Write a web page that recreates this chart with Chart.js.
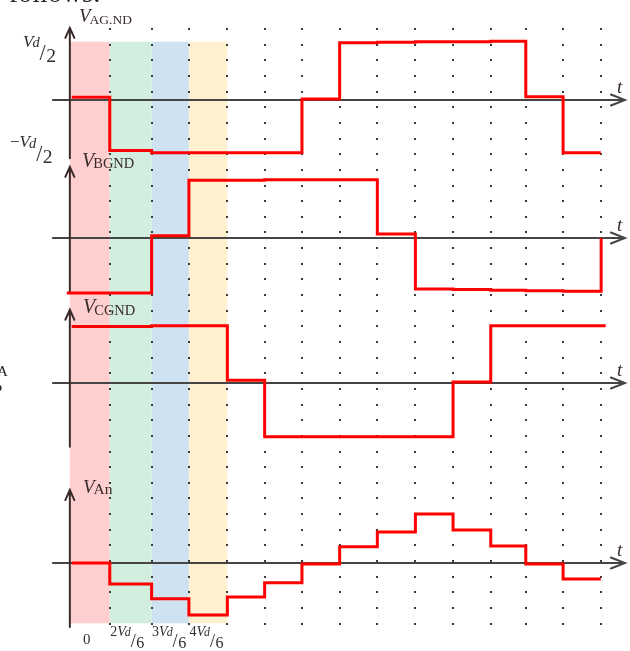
<!DOCTYPE html>
<html>
<head>
<meta charset="utf-8">
<script src="https://cdn.jsdelivr.net/npm/chart.js@4.4.0/dist/chart.umd.min.js"></script>
<style>
  html, body { margin: 0; padding: 0; background: #fff; }
  #holder { position: relative; width: 630px; height: 651px; }
</style>
</head>
<body>
<div id="holder"><canvas id="chart"></canvas></div>
<script>
// switching instants (the dotted columns)
var tGrid = [0, 1.06, 2.17, 3.16, 4.18, 5.17, 6.16, 7.16, 8.16, 9.17, 10.17, 11.17, 12.1, 13.09, 14.09];

// levels held over each interval, last value = where the trace ends
// (first three in units of Vd/2, last one in grid steps)
var vAG = [0.05, -0.91, -0.95, -0.95, -0.95, -0.95, 0.02, 1.03, 1.04, 1.05, 1.05, 1.06, 0.06, -0.95, -0.95];
var vBG = [-0.99, -0.99, 0.04, 1.04, 1.04, 1.05, 1.05, 1.05, 0.07, -0.92, -0.93, -0.94, -0.95, -0.96, 0];
var vCG = [1.02, 1.02, 1.03, 1.03, 0.05, -0.97, -0.97, -0.97, -0.97, -0.97, 0.02, 1.03, 1.03, 1.03, 1.03];
var vAn = [0, -1.31, -2.23, -3.25, -2.13, -1.23, -0.06, 1.02, 1.94, 3.06, 2.06, 1.06, -0.06, -1.0, -1.0];
var traceStart = [0.05, -0.08, 0.05, 0.05];
var traceEnd = [14.09, 14.1, 14.22, 14.09];

var bandColors = ['#ffcfcf', '#d2eedf', '#cfe2f1', '#fff1cf'];
var bandLabels = ['0', '2', '3', '4'];

var H = 651;
var FONT = '"Liberation Serif", "DejaVu Serif", serif';

// panel layout: pixel of the zero line and pixels per unit
var panels = [
  { id: 'yA', zero: 100, unit: 55.5, data: vAG, sub: 'AG.ND', arrowTop: 1.3, arrowBot: -1.05 },
  { id: 'yB', zero: 238, unit: 55.5, data: vBG, sub: 'BGND', arrowTop: 1.28, arrowBot: -0.99 },
  { id: 'yC', zero: 383, unit: 55.5, data: vCG, sub: 'CGND', arrowTop: 1.32, arrowBot: -1.15 },
  { id: 'yN', zero: 563, unit: 16, data: vAn, sub: 'An', arrowTop: 4.56, arrowBot: -4.0 }
];

function toPoints(levels, tStart, tEnd) {
  var pts = [];
  for (var i = 0; i < levels.length - 1; i++) {
    pts.push({ x: i === 0 ? tStart : tGrid[i], y: levels[i] });
  }
  pts.push({ x: tEnd, y: levels[levels.length - 1] });
  return pts;
}

function vSub(ctx, x, y, sub, vSize, subSize) {
  ctx.font = 'italic ' + vSize + 'px ' + FONT;
  ctx.fillText('V', x, y);
  var w = ctx.measureText('V').width;
  ctx.font = subSize + 'px ' + FONT;
  ctx.fillText(sub, x + w - 1, y + 1.5);
}

// slanted fraction like  Vd/2
function slashFrac(ctx, x, y, lead, den, s) {
  var cx = x;
  if (lead) {
    ctx.font = s + 'px ' + FONT;
    ctx.fillText(lead, cx, y);
    cx += ctx.measureText(lead).width;
  }
  ctx.font = 'italic ' + s + 'px ' + FONT;
  ctx.fillText('V', cx, y);
  cx += ctx.measureText('V').width - 1;
  ctx.font = 'italic ' + (s * 0.85) + 'px ' + FONT;
  ctx.fillText('d', cx, y + 0.5);
  cx += ctx.measureText('d').width;
  ctx.font = (s * 1.3) + 'px ' + FONT;
  ctx.fillText('/', cx, y + s * 0.8);
  cx += ctx.measureText('/').width + 0.5;
  ctx.font = (s * 1.15) + 'px ' + FONT;
  ctx.fillText(den, cx, y + s * 0.92);
}

var sketch = {
  id: 'sketch',
  beforeDatasetsDraw: function(chart) {
    var ctx = chart.ctx, xs = chart.scales.x;
    ctx.save();

    // coloured bands over the first four intervals
    var top = chart.scales.yA.getPixelForValue(1.05);
    var bottom = chart.scales.yN.getPixelForValue(-3.77);
    bandColors.forEach(function(c, i) {
      var x0 = xs.getPixelForValue(tGrid[i]), x1 = xs.getPixelForValue(tGrid[i + 1]);
      ctx.fillStyle = c;
      ctx.fillRect(x0, top, x1 - x0, bottom - top);
    });

    // dotted columns
    ctx.fillStyle = '#3a3a3a';
    for (var i = 1; i < tGrid.length; i++) {
      var px = Math.round(xs.getPixelForValue(tGrid[i]));
      for (var py = 29; py < 626; py += 15.65) {
        ctx.fillRect(px - 1, Math.round(py) - 1, 2, 2);
      }
    }

    // axes with open arrow heads
    var x0 = xs.getPixelForValue(0);
    var xl = xs.getPixelForValue(-0.45);
    var tip = xs.getPixelForValue(14.73);
    ctx.lineWidth = 2;
    ctx.lineCap = 'round';
    panels.forEach(function(p) {
      var s = chart.scales[p.id];
      var y0 = s.getPixelForValue(0);
      ctx.strokeStyle = '#454545';
      ctx.beginPath();
      ctx.moveTo(xl, y0);
      ctx.lineTo(tip, y0);
      ctx.moveTo(tip - 14, y0 - 5.5);
      ctx.lineTo(tip, y0);
      ctx.lineTo(tip - 14, y0 + 5.5);
      ctx.stroke();

      var yt = s.getPixelForValue(p.arrowTop), yb = s.getPixelForValue(p.arrowBot);
      ctx.strokeStyle = '#3a2b2b';
      ctx.beginPath();
      ctx.moveTo(x0, yb);
      ctx.lineTo(x0, yt);
      ctx.moveTo(x0 - 4.5, yt + 10);
      ctx.lineTo(x0, yt);
      ctx.lineTo(x0 + 4.5, yt + 10);
      ctx.stroke();
    });
    ctx.restore();
  },
  afterDatasetsDraw: function(chart) {
    var ctx = chart.ctx, xs = chart.scales.x;
    ctx.save();
    ctx.fillStyle = '#3a2b2b';
    ctx.textBaseline = 'alphabetic';

    var tipX = xs.getPixelForValue(14.73);
    panels.forEach(function(p) {
      var y0 = chart.scales[p.id].getPixelForValue(0);
      ctx.font = 'italic 19px ' + FONT;
      ctx.fillText('t', tipX - 8, y0 - 7);
    });

    vSub(ctx, 79, 22, panels[0].sub, 19, 13.5);
    vSub(ctx, 82, 166.5, panels[1].sub, 20, 14.5);
    vSub(ctx, 83, 313, panels[2].sub, 20, 14.5);
    vSub(ctx, 83, 492.5, panels[3].sub, 19, 15.5);

    ctx.fillStyle = '#2e2e2e';
    slashFrac(ctx, 23, 46.5, '', '2', 17);
    slashFrac(ctx, 10, 147, '\u2212', '2', 17);

    // band captions under the last panel
    ctx.font = '15px ' + FONT;
    ctx.fillText(bandLabels[0], 83, 644);
    for (var i = 1; i < bandLabels.length; i++) {
      slashFrac(ctx, xs.getPixelForValue(tGrid[i]) + 0.5, 635.5, bandLabels[i], '6', 14);
    }

    // cut-off text from the surrounding page
    ctx.fillStyle = '#222';
    ctx.font = '28px ' + FONT;
    ctx.fillText('follows:', 9, 2);
    ctx.font = '15px ' + FONT;
    ctx.fillText('A', -3, 376);
    ctx.font = 'bold 12px ' + FONT;
    ctx.fillText('o', -4, 391);
    ctx.restore();
  }
};

var scales = {
  x: { type: 'linear', display: false, min: -0.5, max: 14.6 }
};
panels.forEach(function(p) {
  scales[p.id] = {
    type: 'linear', display: false,
    min: -(H - p.zero) / p.unit,
    max: p.zero / p.unit
  };
});

new Chart(document.getElementById('chart'), {
  type: 'line',
  data: {
    datasets: panels.map(function(p, i) {
      return {
        label: 'V' + p.sub,
        data: toPoints(p.data, traceStart[i], traceEnd[i]),
        yAxisID: p.id,
        stepped: 'before',
        borderColor: '#ff0000',
        borderWidth: 3,
        pointRadius: 0,
        fill: false
      };
    })
  },
  options: {
    responsive: true,
    maintainAspectRatio: false,
    animation: false,
    layout: { padding: { left: 51, right: 10, top: 0, bottom: 0 } },
    plugins: { legend: { display: false }, tooltip: { enabled: false } },
    scales: scales
  },
  plugins: [sketch]
});
</script>
</body>
</html>
